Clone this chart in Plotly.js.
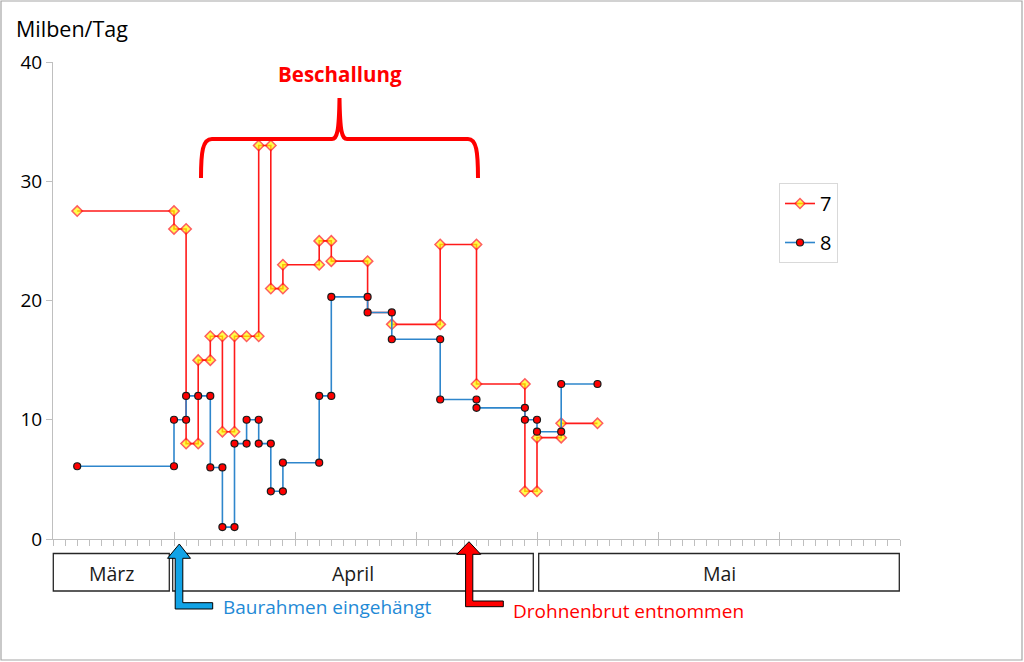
<!DOCTYPE html>
<html>
<head>
<meta charset="utf-8">
<script src="https://cdn.plot.ly/plotly-3.0.1.min.js"></script>
<style>
  html, body { margin: 0; padding: 0; background: #ffffff; }
  #chart { width: 1024px; height: 662px; }
</style>
</head>
<body>
<div id="chart"></div>
<script>
// ---- data (Milben/Tag per interval, stepped: start and end point of each interval) ----
const dates7 = ['2019-03-24','2019-04-01','2019-04-01','2019-04-02','2019-04-02','2019-04-03','2019-04-03','2019-04-04','2019-04-04','2019-04-05','2019-04-05','2019-04-06','2019-04-06','2019-04-07','2019-04-08','2019-04-08','2019-04-09','2019-04-09','2019-04-10','2019-04-10','2019-04-13','2019-04-13','2019-04-14','2019-04-14','2019-04-17','2019-04-17','2019-04-19','2019-04-19','2019-04-23','2019-04-23','2019-04-26','2019-04-26','2019-04-30','2019-04-30','2019-05-01','2019-05-01','2019-05-03','2019-05-03','2019-05-06'];
const values7 = [27.5,27.5,26,26,8,8,15,15,17,17,9,9,17,17,17,33,33,21,21,23,23,25,25,23.3,23.3,19,19,18,18,24.7,24.7,13,13,4,4,8.5,8.5,9.7,9.7];

const dates8 = ['2019-03-24','2019-04-01','2019-04-01','2019-04-02','2019-04-02','2019-04-03','2019-04-04','2019-04-04','2019-04-05','2019-04-05','2019-04-06','2019-04-06','2019-04-07','2019-04-07','2019-04-08','2019-04-08','2019-04-09','2019-04-09','2019-04-10','2019-04-10','2019-04-13','2019-04-13','2019-04-14','2019-04-14','2019-04-17','2019-04-17','2019-04-19','2019-04-19','2019-04-23','2019-04-23','2019-04-26','2019-04-26','2019-04-30','2019-04-30','2019-05-01','2019-05-01','2019-05-03','2019-05-03','2019-05-06'];
const values8 = [6.1,6.1,10,10,12,12,12,6,6,1,1,8,8,10,10,8,8,4,4,6.4,6.4,12,12,20.3,20.3,19,19,16.75,16.75,11.7,11.7,11,11,10,10,9,9,13,13];

const seriesNames = ['7', '8'];
const monthLabels = ['März', 'April', 'Mai'];
const yTicks = [0, 10, 20, 30, 40];
const xRange = ['2019-03-22', '2019-05-31'];
const yTitle = 'Milben/Tag';
const bracketLabel = 'Beschallung';
const note1 = 'Baurahmen eingehängt';
const note2 = 'Drohnenbrut entnommen';

// ---- layout geometry (pixels of the 1024x662 figure) ----
const W = 1024, H = 662;
const PL = 53, PR = 900, PT = 62, PB = 539;
const px = x => (x - PL) / (PR - PL);
const py = y => (PB - y) / (PB - PT);
const P = (x, y) => px(x).toFixed(5) + ',' + py(y).toFixed(5);

const FONT = 'Open Sans, Noto Sans, sans-serif';
const DAY = 86400000;

// red points that lie exactly on a blue point are covered by it (as in the original)
const covered = dates7.map((d, i) => dates8.some((d8, j) => d8 === d && values8[j] === values7[i]));
const sizes7 = covered.map(c => c ? 0 : 8);

const traces = [
  {
    x: dates7, y: values7, name: seriesNames[0], type: 'scatter', mode: 'lines+markers',
    legendgroup: 'a',
    line: { color: '#ff1a1a', width: 1.6 },
    marker: { symbol: 'diamond', size: sizes7, color: '#ffff00', line: { color: '#ff1a1a', width: 1.5 } }
  },
  {
    x: dates8, y: values8, name: seriesNames[1], type: 'scatter', mode: 'lines+markers',
    legendgroup: 'b',
    line: { color: '#2e86cc', width: 1.6 },
    marker: { symbol: 'circle', size: 7, color: '#ff0000', line: { color: '#1a1a1a', width: 1.2 } }
  },
  // helper (invisible) trace for the upper half of the crossing major ticks
  { x: xRange, y: [null, null], xaxis: 'x2', yaxis: 'y', showlegend: false, hoverinfo: 'skip', type: 'scatter', mode: 'lines' }
];

const monthBoxes = [[53.3, 169.3], [172.7, 533.3], [538.7, 899.3]];
const shapes = [];
// outer frame
shapes.push({ type: 'rect', xref: 'paper', yref: 'paper', x0: px(1), x1: px(1022), y0: py(1), y1: py(660),
  line: { color: '#a6a6a6', width: 1.2 }, fillcolor: 'rgba(0,0,0,0)' });
// month boxes
monthBoxes.forEach(b => shapes.push({ type: 'rect', xref: 'paper', yref: 'paper',
  x0: px(b[0]), x1: px(b[1]), y0: py(553.5), y1: py(591),
  line: { color: '#262626', width: 1.3 }, fillcolor: '#ffffff' }));
// blue arrow
shapes.push({ type: 'path', xref: 'paper', yref: 'paper',
  path: 'M' + P(179.3, 544) + ' L' + P(190.5, 558.3) + ' L' + P(182.8, 558.3) + ' L' + P(182.8, 602.7) +
        ' L' + P(212.7, 602.7) + ' L' + P(212.7, 609) + ' L' + P(175.2, 609) + ' L' + P(175.2, 558.3) +
        ' L' + P(167.5, 558.3) + ' Z',
  fillcolor: '#12a3e6', line: { color: '#000000', width: 1 } });
// red arrow
shapes.push({ type: 'path', xref: 'paper', yref: 'paper',
  path: 'M' + P(469, 541.7) + ' L' + P(480.7, 554.3) + ' L' + P(472.8, 554.3) + ' L' + P(472.8, 601) +
        ' L' + P(503.3, 601) + ' L' + P(503.3, 606.7) + ' L' + P(465.6, 606.7) + ' L' + P(465.6, 554.3) +
        ' L' + P(456.7, 554.3) + ' Z',
  fillcolor: '#ff0000', line: { color: '#000000', width: 1 } });
// curly bracket
shapes.push({ type: 'path', xref: 'paper', yref: 'paper',
  path: 'M' + P(201, 178) + ' C' + P(201, 152) + ' ' + P(202.5, 139) + ' ' + P(212, 139) +
        ' L' + P(332, 139) + ' C' + P(337, 139) + ' ' + P(339, 132) + ' ' + P(339.5, 98) +
        ' C' + P(340, 132) + ' ' + P(342, 139) + ' ' + P(347, 139) +
        ' L' + P(468, 139) + ' C' + P(476.5, 139) + ' ' + P(478, 152) + ' ' + P(478, 178),
  line: { color: '#ff0000', width: 4 }, fillcolor: 'rgba(0,0,0,0)' });

const annotations = [
  { xref: 'paper', yref: 'paper', x: px(14), y: py(28), xanchor: 'left', yanchor: 'middle', showarrow: false,
    text: yTitle, font: { family: FONT, size: 21.5, color: '#000000' } },
  { xref: 'paper', yref: 'paper', x: px(340), y: py(74), xanchor: 'center', yanchor: 'middle', showarrow: false,
    text: '<b>' + bracketLabel + '</b>', font: { family: FONT, size: 20.5, color: '#ff0000' } },
  { xref: 'paper', yref: 'paper', x: px(221), y: py(607), xanchor: 'left', yanchor: 'middle', showarrow: false,
    text: note1, font: { family: FONT, size: 19, color: '#1f8ad6' } },
  { xref: 'paper', yref: 'paper', x: px(511), y: py(610.5), xanchor: 'left', yanchor: 'middle', showarrow: false,
    text: note2, font: { family: FONT, size: 19, color: '#ff0000' } }
];
monthLabels.forEach((m, i) => annotations.push({ xref: 'paper', yref: 'paper',
  x: px((monthBoxes[i][0] + monthBoxes[i][1]) / 2), y: py(573), xanchor: 'center', yanchor: 'middle',
  showarrow: false, text: m, font: { family: FONT, size: 19.5, color: '#1a1a1a' } }));

const layout = {
  width: W, height: H,
  margin: { l: PL, r: W - PR, t: PT, b: H - PB, pad: 0 },
  paper_bgcolor: '#ffffff', plot_bgcolor: '#ffffff',
  font: { family: FONT, color: '#000000' },
  showlegend: true,
  legend: {
    x: px(779), y: py(183), xanchor: 'left', yanchor: 'top',
    bgcolor: '#ffffff', bordercolor: '#d9d9d9', borderwidth: 1,
    font: { family: FONT, size: 20, color: '#000000' },
    itemwidth: 30, tracegroupgap: 10, traceorder: 'grouped'
  },
  xaxis: {
    type: 'date', range: xRange, showgrid: false, zeroline: false,
    showline: true, linecolor: '#bfbfbf', linewidth: 1,
    ticks: 'outside', ticklen: 6, tickcolor: '#bfbfbf', tickwidth: 1,
    tick0: xRange[0], dtick: 10 * DAY, showticklabels: false,
    minor: { ticks: 'outside', ticklen: 6, tickcolor: '#bfbfbf', tickwidth: 1, dtick: DAY, tick0: xRange[0], showgrid: false },
    fixedrange: true
  },
  xaxis2: {
    type: 'date', range: xRange, overlaying: 'x', anchor: 'y', side: 'bottom',
    showgrid: false, zeroline: false, showline: false,
    ticks: 'inside', ticklen: 7, tickcolor: '#bfbfbf', tickwidth: 1,
    tick0: xRange[0], dtick: 10 * DAY, showticklabels: false, fixedrange: true
  },
  yaxis: {
    range: [0, 40], tickvals: yTicks, ticktext: yTicks.map(String),
    showgrid: false, zeroline: false,
    showline: true, linecolor: '#bfbfbf', linewidth: 1,
    ticks: 'outside', ticklen: 6, tickcolor: '#bfbfbf', tickwidth: 1,
    tickfont: { family: FONT, size: 19, color: '#000000' },
    fixedrange: true
  },
  shapes: shapes,
  annotations: annotations
};

Plotly.newPlot('chart', traces, layout, { displayModeBar: false, staticPlot: true });
</script>
</body>
</html>
